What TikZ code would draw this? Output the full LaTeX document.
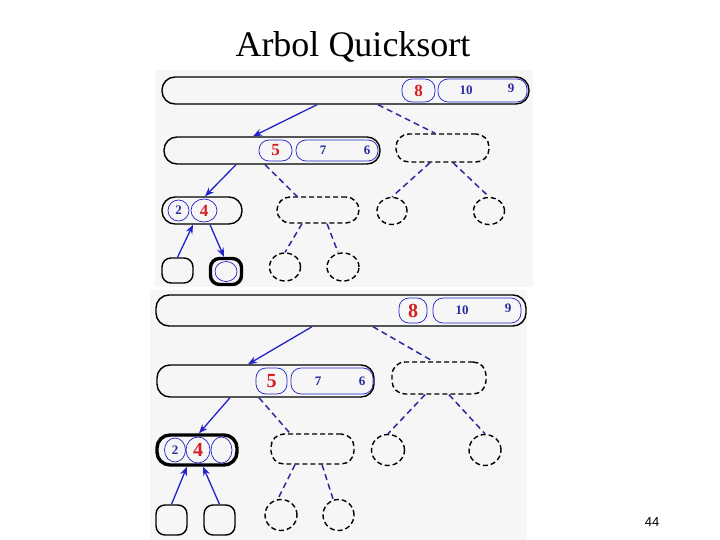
\documentclass[tikz,border=0pt]{standalone}
\usepackage{fontspec}
\setmainfont{Liberation Serif}
\newfontfamily\pagefont{Liberation Sans}
\usetikzlibrary{arrows.meta,shapes.geometric}
\definecolor{qsblue}{HTML}{2222C8}
\definecolor{qsnavy}{HTML}{2A2AA0}
\definecolor{qsred}{HTML}{D42020}
\definecolor{qspanel}{HTML}{F6F6F6}
\tikzset{
  qsbox/.style   = {draw, rectangle, rounded corners=13pt, line width=1.4pt,
                    inner sep=0pt},
  thickbox/.style = {qsbox, line width=3.4pt},
  leaf/.style    = {draw, rectangle, rounded corners=9pt, line width=1.4pt,
                    inner sep=0pt},
  thickleaf/.style = {leaf, line width=3.4pt},
  dbox/.style    = {qsbox, dashed, dash pattern=on 5pt off 3pt},
  dcirc/.style   = {draw, ellipse, dashed, dash pattern=on 5pt off 3pt,
                    line width=1.4pt, inner sep=0pt},
  inpill/.style  = {draw=qsblue, rectangle, rounded corners=10pt,
                    line width=0.7pt, inner sep=0pt},
  incirc/.style  = {draw=qsblue, ellipse, line width=0.7pt, inner sep=0pt},
  %
  rnum/.style    = {font=\fontsize{17}{18}\selectfont\bfseries, text=qsred},
  rbig/.style    = {font=\fontsize{20}{21}\selectfont\bfseries, text=qsred},
  bnum/.style    = {font=\fontsize{13}{14}\selectfont\bfseries, text=qsnavy,
                    inner sep=0pt},
  title/.style   = {font=\fontsize{36}{40}\selectfont, anchor=base},
  pagenum/.style = {font=\pagefont\fontsize{13}{14}\selectfont},
  %
  flow/.style    = {-{Stealth[length=9pt,width=7pt]}, draw=qsblue,
                    line width=1.3pt},
  dflow/.style   = {draw=qsnavy, line width=1.5pt, dashed,
                    dash pattern=on 6pt off 4pt},
}
\begin{document}
\begin{tikzpicture}[x=1pt,y=-1pt]
  \useasboundingbox (0,0) rectangle (720,540);
  \fill[qspanel] (155,70) rectangle (533,287);
  \fill[qspanel] (150,290) rectangle (527,540);

  \node[title] (title) at (353,57) {Arbol Quicksort};
  \node[pagenum] (page) at (652,522) {44};

  % upper tree
  \node[qsbox, minimum width=367pt, minimum height=27pt] (ta) at (345.5,90.5) {};
  \node[inpill, rnum, minimum width=33pt, minimum height=23pt] (ta8) at (418.5,90.5) {8};
  \node[inpill, minimum width=89pt, minimum height=23pt] (ta109) at (482.5,90.5) {};
  \node[bnum] (ta10) at ([xshift=-16.5pt]ta109.center) {10};
  \node[bnum] (ta9) at ([xshift=28.5pt,yshift=2pt]ta109.center) {9};

  \node[qsbox, minimum width=216pt, minimum height=27pt] (tb) at (272,150.5) {};
  \node[inpill, rnum, minimum width=33pt, minimum height=21pt] (tb5) at (275.5,150.5) {5};
  \node[inpill, minimum width=82pt, minimum height=21pt] (tb76) at (337,150.5) {};
  \node[bnum] (tb7) at ([xshift=-14pt]tb76.center) {7};
  \node[bnum] (tb6) at ([xshift=30pt]tb76.center) {6};
  \node[dbox, minimum width=93pt, minimum height=28pt] (tc) at (442.5,148) {};

  \node[qsbox, minimum width=80pt, minimum height=27pt] (td) at (202,210.5) {};
  \node[incirc, bnum, minimum width=21pt, minimum height=21pt] (td2) at (178.5,210.5) {2};
  \node[incirc, rnum, minimum width=26pt, minimum height=23pt] (td4) at (204,210.5) {4};
  \node[dbox, minimum width=82pt, minimum height=26pt] (te) at (318,210) {};
  \node[dcirc, minimum width=30pt, minimum height=27pt] (tf) at (392,211) {};
  \node[dcirc, minimum width=31pt, minimum height=27pt] (tg) at (489,211) {};

  \node[leaf, minimum width=31pt, minimum height=25pt] (th) at (177.5,270.5) {};
  \node[thickleaf, minimum width=31pt, minimum height=26pt] (ti) at (226,271.5) {};
  \node[incirc, minimum width=22pt, minimum height=20pt] (ti0) at (226,271.5) {};
  \node[dcirc, minimum width=31pt, minimum height=28pt] (tj) at (285,267) {};
  \node[dcirc, minimum width=32pt, minimum height=28pt] (tk) at (343,267) {};

  \draw[flow] ([xshift=-28.5pt]ta.south) -- ([xshift=-19pt]tb.north);
  \draw[dflow] ([xshift=32.5pt]ta.south) -- ([xshift=-7.5pt]tc.north);
  \draw[flow] ([xshift=-36pt]tb.south) -- ([xshift=3pt]td.north);
  \draw[dflow] ([xshift=-7pt]tb.south) -- ([xshift=-21pt]te.north);
  \draw[dflow] ([xshift=-12.5pt]tc.south) -- (tf.north);
  \draw[dflow] ([xshift=10.5pt]tc.south) -- (tg.north);
  \draw[flow] (th.north) -- ([xshift=-9pt]td.south);
  \draw[flow] ([xshift=8pt]td.south) -- ([xshift=-2pt]ti.north);
  \draw[dflow] ([xshift=-16pt]te.south) -- (tj.north);
  \draw[dflow] ([xshift=9pt]te.south) -- ([xshift=-5pt]tk.north);

  % lower tree
  \node[qsbox, minimum width=370pt, minimum height=31pt] (ba) at (341,310.5) {};
  \node[inpill, rbig, minimum width=28pt, minimum height=25pt] (ba8) at (413,310.5) {8};
  \node[inpill, minimum width=88pt, minimum height=25pt] (ba109) at (477,310.5) {};
  \node[bnum] (ba10) at ([xshift=-15pt]ba109.center) {10};
  \node[bnum] (ba9) at ([xshift=31pt,yshift=2pt]ba109.center) {9};

  \node[qsbox, minimum width=217pt, minimum height=32pt] (bb) at (265.5,381) {};
  \node[inpill, rbig, minimum width=31pt, minimum height=26pt] (bb5) at (271.5,381) {5};
  \node[inpill, minimum width=82pt, minimum height=26pt] (bb76) at (332,381) {};
  \node[bnum] (bb7) at ([xshift=-14pt]bb76.center) {7};
  \node[bnum] (bb6) at ([xshift=30pt]bb76.center) {6};
  \node[dbox, minimum width=94pt, minimum height=32pt] (bc) at (439,378) {};

  \node[thickbox, minimum width=80pt, minimum height=30pt] (bd) at (197,450) {};
  \node[incirc, bnum, minimum width=21pt, minimum height=24pt] (bd2) at (175,450) {2};
  \node[incirc, rbig, minimum width=24pt, minimum height=26pt] (bd4) at (198,450) {4};
  \node[incirc, minimum width=21pt, minimum height=26pt] (bd0) at (221.5,450) {};
  \node[dbox, minimum width=83pt, minimum height=30pt] (be) at (312.5,449) {};
  \node[dcirc, minimum width=33pt, minimum height=31pt] (bf) at (388,450) {};
  \node[dcirc, minimum width=32pt, minimum height=31pt] (bg) at (485,450) {};

  \node[leaf, minimum width=31pt, minimum height=30pt] (bh) at (171.5,520) {};
  \node[leaf, minimum width=31pt, minimum height=30pt] (bi) at (219.5,520) {};
  \node[dcirc, minimum width=32pt, minimum height=31pt] (bj) at (281,515) {};
  \node[dcirc, minimum width=31pt, minimum height=31pt] (bk) at (338.5,515) {};

  \draw[flow] ([xshift=-29pt]ba.south) -- ([xshift=-17.5pt]bb.north);
  \draw[dflow] ([xshift=32pt]ba.south) -- ([xshift=-6pt]bc.north);
  \draw[flow] ([xshift=-35.5pt]bb.south) -- ([xshift=2pt]bd.north);
  \draw[dflow] ([xshift=-6.5pt]bb.south) -- ([xshift=-22.5pt]be.north);
  \draw[dflow] ([xshift=-14pt]bc.south) -- (bf.north);
  \draw[dflow] ([xshift=10pt]bc.south) -- (bg.north);
  \draw[flow] (bh.north) -- ([xshift=-10pt]bd.south);
  \draw[flow] (bi.north) -- ([xshift=6pt]bd.south);
  \draw[dflow] ([xshift=-17.5pt]be.south) -- ([xshift=-3pt]bj.north);
  \draw[dflow] ([xshift=9.5pt]be.south) -- ([xshift=-5.5pt]bk.north);
\end{tikzpicture}
\end{document}
